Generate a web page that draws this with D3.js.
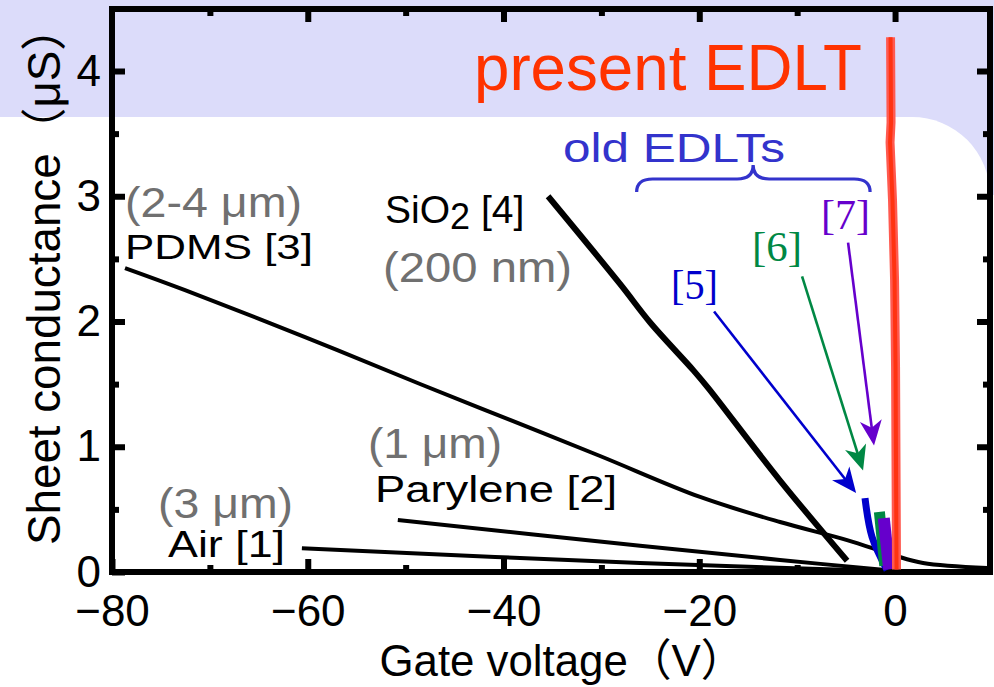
<!DOCTYPE html>
<html><head><meta charset="utf-8">
<script src="https://cdn.jsdelivr.net/npm/d3@7"></script>
<style>body{margin:0;background:#fff}svg{display:block}</style>
</head><body><svg id="c" width="994" height="687"></svg>
<script>
// ---- data ----
const xTicksMajor = [-80, -60, -40, -20, 0];
const xTicksMinor = [-70, -50, -30, -10];
const yTicksMajor = [0, 1, 2, 3, 4];
const yTicksMinor = [0.5, 1.5, 2.5, 3.5];

const pdms = [[-78.67,2.427],[-72.54,2.251],[-60.28,1.876],[-48.53,1.501],[-39.34,1.214],[-30.14,0.926],[-19.92,0.599],[-11.75,0.399],[-4.9,0.255],[-0.2,0.136],[2.86,0.072],[9.4,0.032]];
const sio2 = [[-35.45,3.0],[-28.1,2.3],[-25.0,1.99],[-20.6,1.61],[-19.1,1.47],[-11.75,0.73],[-4.9,0.09]];
const parylene = [[-50.8,0.415],[-26.05,0.21],[-11.75,0.096],[-1.0,0.016]];
const air = [[-60.6,0.19],[-26.05,0.072],[-1.0,0.008]];
const ref5 = [[-3.07,0.59],[-2.35,0.28],[-0.82,0.016]];
const ref6 = [[-1.6,0.48],[-1.05,0.05]];
const ref7 = [[-1.15,0.43],[-0.6,0.02]];
const present = [[-0.46,4.27],[-0.41,3.59],[-0.51,3.43],[-0.26,2.97],[-0.05,2.33],[0.05,1.64],[0.15,0.02]];

const arrows = [
  {from:[-18.49,2.08], to:[-3.98,0.63], color:"#0000cc"},
  {from:[-9.50,2.36],  to:[-3.27,0.81], color:"#008844"},
  {from:[-4.80,2.63],  to:[-2.15,1.01], color:"#6600cc"}
];
const braceSpan = {x0:-26.4, x1:-2.55, xc:-14.5};

// ---- chart ----
const svg = d3.select("#c");
const W = 994, H = 687;
const x = d3.scaleLinear().domain([-80, 9.7]).range([112, 990]);
const y = d3.scaleLinear().domain([0, 4.495]).range([572, 9]);
const SANS = "'Liberation Sans', Arial, 'Noto Sans CJK JP', sans-serif";
const SERIF = "'Liberation Serif', 'Times New Roman', serif";

// background band
svg.append("rect").attr("width", W).attr("height", H).attr("fill", "#dcdcfa");
svg.append("path").attr("fill", "#fff")
  .attr("d", "M0,117 H912 A78,78 0 0 1 990,195 V687 H0 Z");
svg.append("rect").attr("x", 990).attr("y", 195).attr("width", 4).attr("height", H).attr("fill", "#fff");

// axes ticks
const fmt = d3.format("d");
function styleAxis(g){
  g.select(".domain").remove();
  g.selectAll(".tick line").attr("stroke", "#000").attr("stroke-width", 6);
  g.selectAll(".tick text").attr("fill", "#000").attr("font-family", SANS).attr("font-size", 44);
}
svg.append("g").attr("transform", "translate(0,572)")
  .call(d3.axisBottom(x).tickValues(xTicksMajor).tickSize(-13).tickPadding(23).tickFormat(fmt)).call(styleAxis);
svg.append("g").attr("transform", "translate(0,572)")
  .call(d3.axisBottom(x).tickValues(xTicksMinor).tickSize(-7).tickFormat("")).call(styleAxis);
svg.append("g").attr("transform", "translate(0,9)")
  .call(d3.axisTop(x).tickValues(xTicksMajor.slice(1)).tickSize(-13).tickFormat("")).call(styleAxis);
svg.append("g").attr("transform", "translate(0,9)")
  .call(d3.axisTop(x).tickValues(xTicksMinor).tickSize(-7).tickFormat("")).call(styleAxis);
svg.append("g").attr("transform", "translate(112,0)")
  .call(d3.axisLeft(y).tickValues(yTicksMajor).tickSize(-13).tickPadding(11).tickFormat(fmt)).call(styleAxis);
svg.append("g").attr("transform", "translate(112,0)")
  .call(d3.axisLeft(y).tickValues(yTicksMinor).tickSize(-7).tickFormat("")).call(styleAxis);
svg.append("g").attr("transform", "translate(990,0)")
  .call(d3.axisRight(y).tickValues(yTicksMajor.slice(1)).tickSize(-13).tickFormat("")).call(styleAxis);
svg.append("g").attr("transform", "translate(990,0)")
  .call(d3.axisRight(y).tickValues(yTicksMinor).tickSize(-7).tickFormat("")).call(styleAxis);

// frame
svg.append("rect").attr("x", 112).attr("y", 9).attr("width", 878).attr("height", 563)
  .attr("fill", "none").attr("stroke", "#000").attr("stroke-width", 6);

// lines
const smooth = d3.line().x(d => x(d[0])).y(d => y(d[1])).curve(d3.curveCatmullRom);
const lin = d3.line().x(d => x(d[0])).y(d => y(d[1]));
function drawLine(data, color, w, gen){
  svg.append("path").attr("d", (gen||smooth)(data)).attr("fill", "none")
    .attr("stroke", color).attr("stroke-width", w).attr("stroke-linejoin", "round");
}
drawLine(air, "#000", 4);
drawLine(parylene, "#000", 4);
drawLine(pdms, "#000", 4);
drawLine(sio2, "#000", 6);
drawLine(ref5, "#0000cc", 7);
drawLine(ref6, "#008844", 11, lin);
drawLine(ref7, "#6600cc", 12, lin);
drawLine(present, "#ff5a50", 9, lin);
drawLine(present, "#ff3311", 4, lin);

// arrows
arrows.forEach(a => {
  const x0 = x(a.from[0]), y0 = y(a.from[1]), x1 = x(a.to[0]), y1 = y(a.to[1]);
  const ang = Math.atan2(y1 - y0, x1 - x0);
  const ex = x1 - 16*Math.cos(ang), ey = y1 - 16*Math.sin(ang);
  svg.append("line").attr("x1", x0).attr("y1", y0).attr("x2", ex).attr("y2", ey)
    .attr("stroke", a.color).attr("stroke-width", 2.6);
  svg.append("path").attr("d", "M0,0 L-25,-11 L-18,0 L-25,11 Z").attr("fill", a.color)
    .attr("transform", `translate(${x1},${y1}) rotate(${ang*180/Math.PI})`);
});

// brace
{
  const x0 = x(braceSpan.x0), x1 = x(braceSpan.x1), xc = x(braceSpan.xc);
  const yEnd = 192, yMid = 179, yCusp = 165, r = 16;
  svg.append("path").attr("fill", "none").attr("stroke", "#3333cc").attr("stroke-width", 3.2)
    .attr("d", `M${x0},${yEnd} Q${x0},${yMid} ${x0+r},${yMid} L${xc-r},${yMid} Q${xc},${yMid} ${xc},${yCusp} Q${xc},${yMid} ${xc+r},${yMid} L${x1-r},${yMid} Q${x1},${yMid} ${x1},${yEnd}`);
}

// texts
function txt(s, xx, yy, size, color, len, fam){
  return svg.append("text").attr("x", xx).attr("y", yy).attr("font-size", size)
    .attr("fill", color).attr("font-family", fam || SANS)
    .attr("textLength", len).attr("lengthAdjust", "spacingAndGlyphs").text(s);
}
txt("present EDLT", 474, 90, 64, "#ff3300", 388);
txt("old EDLTs", 563, 162, 40, "#3333cc", 222);
txt("(2-4 μm)", 125, 217, 42, "#707070", 177);
txt("PDMS [3]", 125, 259, 35, "#000", 188);
txt("(200 nm)", 383, 282, 42, "#707070", 189);
txt("(1 μm)", 368, 458, 42, "#707070", 134);
txt("Parylene [2]", 375, 502, 36, "#000", 242);
txt("(3 μm)", 158, 518, 43, "#707070", 135);
txt("Air [1]", 168, 557, 36, "#000", 117);
{
  const t = svg.append("text").attr("x", 385).attr("y", 223).attr("font-size", 39)
    .attr("font-family", SANS).attr("fill", "#000");
  t.append("tspan").text("SiO");
  t.append("tspan").attr("dy", 6).attr("font-size", 36).text("2");
  t.append("tspan").attr("dy", -6).text(" [4]");
}
txt("[5]", 671, 299, 42, "#0000cc", 47, SERIF);
txt("[6]", 752, 261, 42, "#008844", 50, SERIF);
txt("[7]", 821, 229, 42, "#6600cc", 49, SERIF);

// axis titles
svg.append("text").attr("x", 562).attr("y", 676).attr("text-anchor", "middle")
  .attr("font-size", 44).attr("font-family", SANS).attr("fill", "#000")
  .attr("textLength", 365).attr("lengthAdjust", "spacingAndGlyphs").text("Gate voltage（V）");
svg.append("text").attr("transform", "translate(60,275) rotate(-90)").attr("text-anchor", "middle")
  .attr("font-size", 46).attr("font-family", SANS).attr("fill", "#000")
  .attr("textLength", 540).attr("lengthAdjust", "spacingAndGlyphs").text("Sheet conductance（μS）");
</script></body></html>
